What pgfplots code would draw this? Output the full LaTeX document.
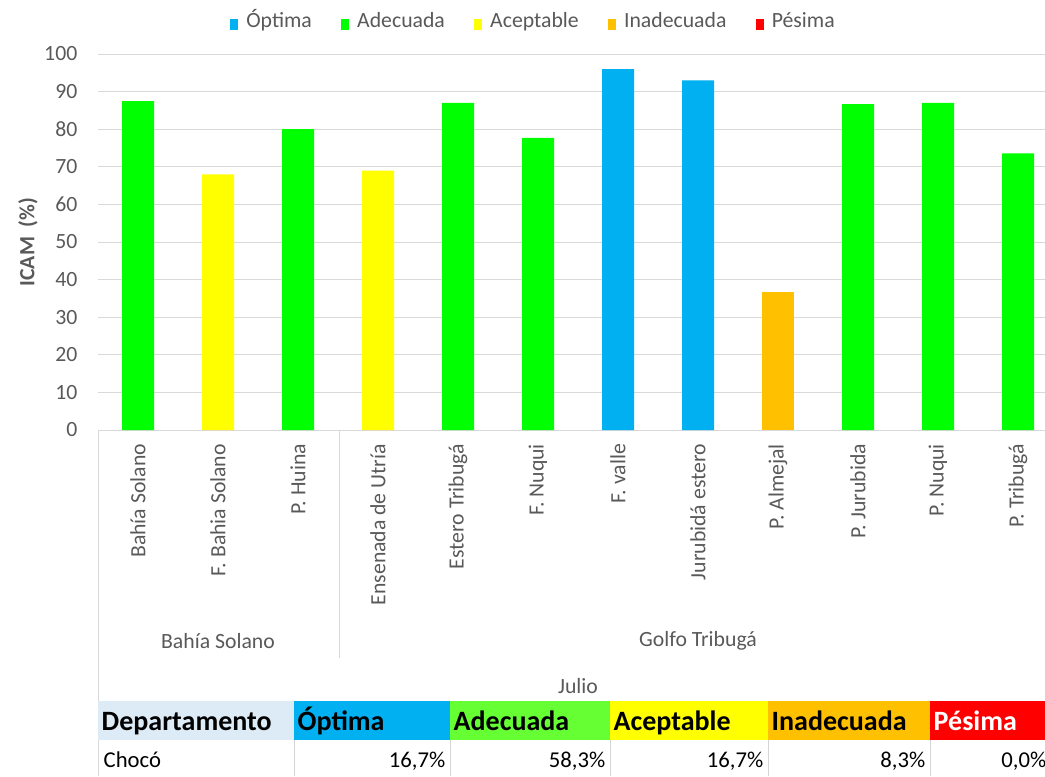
\documentclass[border=0pt]{standalone}
\usepackage{fontspec}
\setmainfont{Carlito}
\usepackage{pgfplots}
\pgfplotsset{compat=1.18}

\definecolor{optima}{HTML}{00B0F0}
\definecolor{adecuada}{HTML}{00FF00}
\definecolor{adecuadaT}{HTML}{66FF33}
\definecolor{aceptable}{HTML}{FFFF00}
\definecolor{inadecuada}{HTML}{FFC000}
\definecolor{pesima}{HTML}{FF0000}
\definecolor{depto}{HTML}{DDEBF7}
\definecolor{txt}{HTML}{595959}
\definecolor{grd}{HTML}{D9D9D9}
\definecolor{cellb}{HTML}{D4D4D4}

\newcommand\tickfont{\fontsize{16.3}{19}\selectfont}
\newcommand\tabfont{\fontsize{17}{20}\selectfont}
\newcommand\headfont{\fontsize{21}{24}\selectfont\bfseries}

\pgfplotsset{sq/.style={legend image code/.code={\fill[##1,draw=none] (0pt,-4pt) rectangle (6pt,4pt);}}}

\begin{document}
\begin{tikzpicture}
\useasboundingbox (0,0) rectangle (783.75pt,-582pt);
\clip (0,0) rectangle (783.75pt,-582pt);
\begin{axis}[
    at={(73.5pt,-322.5pt)}, anchor=south west,
    scale only axis, width=720pt, height=282pt,
    xmin=-0.5, xmax=11.5, ymin=0, ymax=100,
    ybar, bar width=24pt,
    every axis plot/.append style={bar shift=0pt, draw=none, sq},
    xtick={0,...,11},
    xticklabels={Bahía Solano, F. Bahia Solano, P. Huina, Ensenada de Utría,
                 Estero Tribugá, F. Nuqui, F. valle, Jurubidá estero,
                 P. Almejal, P. Jurubida, P. Nuqui, P. Tribugá},
    xticklabel style={yshift=-7pt, rotate=90, anchor=east, font=\tickfont, text=txt},
    ytick={0,10,...,100},
    yticklabel style={xshift=-12pt, font=\tickfont, text=txt},
    /pgf/number format/assume math mode=true,
    ymajorgrids, grid style={grd, line width=0.75pt},
    axis x line*=bottom, axis y line*=left,
    x axis line style={grd, line width=0.75pt},
    y axis line style={draw=none},
    major tick length=0pt,
    ylabel={\bfseries ICAM\ \ (\%)},
    every axis y label/.style={at={(axis description cs:-0.073,0.5)}, rotate=90,
                               anchor=center, font=\tickfont, text=txt},
    legend style={at={(0.454,1.079)}, anchor=center, draw=none, fill=none,
                  font=\tickfont, text=txt, legend columns=-1,
                  nodes={text height=0.7em, text depth=0.2em},
                  /tikz/every odd column/.append style={column sep=4pt},
                  /tikz/every even column/.append style={column sep=20pt}},
]
\addplot[fill=optima] coordinates {(6,96) (7,93)};
\addlegendentry{Óptima}
\addplot[fill=adecuada] coordinates {(0,87.5) (2,80) (4,87) (5,77.7) (9,86.7) (10,87) (11,73.6)};
\addlegendentry{Adecuada}
\addplot[fill=aceptable] coordinates {(1,68) (3,69)};
\addlegendentry{Aceptable}
\addplot[fill=inadecuada] coordinates {(8,36.7)};
\addlegendentry{Inadecuada}
\addlegendimage{fill=pesima, sq}
\addlegendentry{Pésima}
\end{axis}

% category groups and the table below the chart (px units, y downwards)
\begin{scope}[x=0.75pt, y=-0.75pt]
  \draw[grd, line width=0.75pt] (98,430) -- (98,776);
  \draw[grd, line width=0.75pt] (339,430) -- (339,658);
  \node[text=txt, font=\tickfont] at (218,641) {Bahía Solano};
  \node[text=txt, font=\tickfont] at (698,641) {Golfo Tribugá};
  \node[text=txt, font=\tickfont] at (578,686) {Julio};

  \fill[depto] (98,701) rectangle (294,740);
  \fill[optima] (294,701) rectangle (450,740);
  \fill[adecuadaT] (450,701) rectangle (610,740);
  \fill[aceptable] (610,701) rectangle (768,740);
  \fill[inadecuada] (768,701) rectangle (930,740);
  \fill[pesima] (930,701) rectangle (1060,740);
  \foreach \c in {294,450,610,768,930}
    \draw[cellb, line width=0.75pt] (\c,740) -- (\c,776);

  \node[anchor=base west, font=\headfont] at (97,730) {Departamento};
  \node[anchor=base west, font=\headfont] at (293,730) {Óptima};
  \node[anchor=base west, font=\headfont] at (449,730) {Adecuada};
  \node[anchor=base west, font=\headfont] at (609,730) {Aceptable};
  \node[anchor=base west, font=\headfont] at (767,730) {Inadecuada};
  \node[anchor=base west, font=\headfont, text=white] at (929,730) {Pésima};

  \node[anchor=base west, font=\tabfont] at (99,767) {Chocó};
  \node[anchor=base east, font=\tabfont] at (450,767) {16,7\%};
  \node[anchor=base east, font=\tabfont] at (610,767) {58,3\%};
  \node[anchor=base east, font=\tabfont] at (768,767) {16,7\%};
  \node[anchor=base east, font=\tabfont] at (930,767) {8,3\%};
  \node[anchor=base east, font=\tabfont] at (1051,767) {0,0\%};
\end{scope}
\end{tikzpicture}
\end{document}
